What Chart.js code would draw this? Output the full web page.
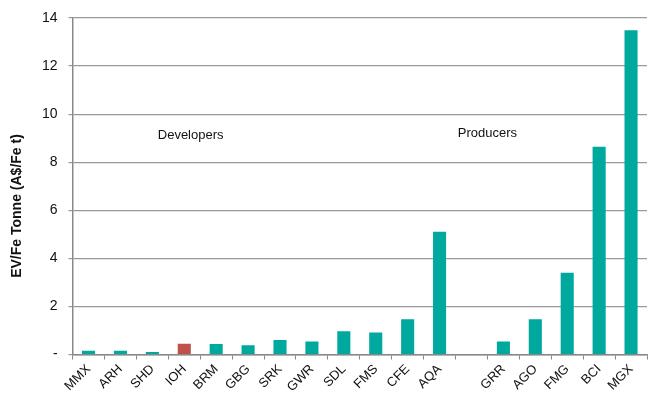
<!DOCTYPE html>
<html>
<head>
<meta charset="utf-8">
<script src="https://cdn.jsdelivr.net/npm/chart.js@4.4.1/dist/chart.umd.min.js"></script>
<style>
  html, body { margin: 0; padding: 0; background: #fff; }
  #wrap { width: 648px; height: 397px; }
</style>
</head>
<body>
<div id="wrap"><canvas id="myChart"></canvas></div>
<script>
const companies = ["MMX", "ARH", "SHD", "IOH", "BRM", "GBG", "SRK", "GWR", "SDL", "FMS", "CFE", "AQA", "", "GRR", "AGO", "FMG", "BCI", "MGX"];
const evPerTonne = [0.16, 0.16, 0.1, 0.45, 0.44, 0.38, 0.6, 0.54, 0.97, 0.92, 1.47, 5.11, null, 0.54, 1.47, 3.4, 8.64, 13.49];
const yTicks = [0, 2, 4, 6, 8, 10, 12, 14];
const groupLabels = [
  { text: "Developers", at: 3.2, value: 9.1 },
  { text: "Producers", at: 12.5, value: 9.2 },
];
const yTitle = "EV/Fe Tonne (A$/Fe t)";

const teal = "#00A99D";
const red = "#C0504D";
const fontFamily = "'Liberation Sans', Arial, sans-serif";

// group captions and the axis title, drawn by hand
const extraText = {
  id: "extraText",
  afterDatasetsDraw(chart) {
    const { ctx, scales } = chart;
    ctx.save();
    ctx.font = "13px " + fontFamily;
    ctx.fillStyle = "#111";
    ctx.textAlign = "center";
    ctx.textBaseline = "middle";
    groupLabels.forEach((g) => {
      ctx.fillText(g.text, scales.x.getPixelForValue(g.at), scales.y.getPixelForValue(g.value));
    });
    ctx.translate(17, 206);
    ctx.rotate(-Math.PI / 2);
    ctx.font = "bold 14px " + fontFamily;
    ctx.fillText(yTitle, 0, 0);
    ctx.restore();
  },
};

const myChart = document.querySelector("#myChart");

new Chart(myChart, {
  type: "bar",
  data: {
    labels: companies,
    datasets: [
      {
        label: "EV/Fe Tonne",
        data: evPerTonne,
        backgroundColor: companies.map((c) => (c === "IOH" ? red : teal)),
        barPercentage: 0.82,
        categoryPercentage: 0.5,
      },
    ],
  },
  options: {
    responsive: true,
    maintainAspectRatio: false,
    animation: false,
    layout: { padding: { top: 0, right: 1, left: 31, bottom: 0 } },
    plugins: {
      legend: { display: false },
      tooltip: { enabled: false },
    },
    scales: {
      x: {
        offset: true,
        grid: {
          offset: true,
          drawOnChartArea: false,
          color: "#888",
          tickLength: 5,
        },
        border: { color: "#888", width: 1.5 },
        ticks: {
          color: "#111",
          font: { size: 13, family: fontFamily },
          maxRotation: 45,
          minRotation: 45,
          autoSkip: false,
          padding: 2,
        },
      },
      y: {
        min: 0,
        max: 14,
        afterBuildTicks(axis) {
          axis.ticks = yTicks.map((v) => ({ value: v }));
        },
        grid: { color: "#999", lineWidth: 1.2, tickLength: 4 },
        border: { color: "#888", width: 1.5 },
        ticks: {
          color: "#111",
          font: { size: 14, family: fontFamily, lineHeight: 1 },
          padding: 11,
          callback: (v) => (v === 0 ? "-" : v),
        },
      },
    },
  },
  plugins: [extraText],
});
</script>
</body>
</html>
